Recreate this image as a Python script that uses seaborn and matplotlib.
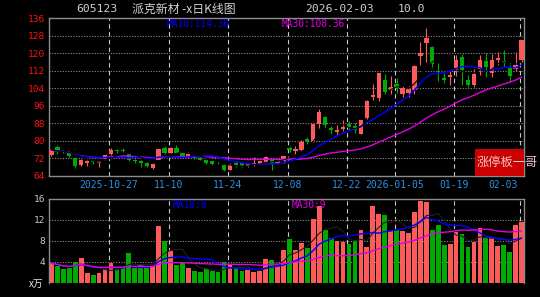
import numpy as np
import pandas as pd
import matplotlib
matplotlib.use("Agg")
import matplotlib.pyplot as plt
from matplotlib.patches import Rectangle
import seaborn as sns

# ---------------- data ----------------
tick_idx = [10, 20, 30, 40, 50, 58, 68, 79]
tick_labels = ["2025-10-27", "11-10", "11-24", "12-08", "12-22", "2026-01-05", "01-19", "02-03"]

opens = [73.3, 77.2, 75.5, 74.8, 72.2, 68.7, 69.8, 70.7, 69.9, 71.8,
         74.1, 75.6, 75.7, 73.8, 71.2, 70.8, 69.8, 67.7, 71.3, 76.8,
         74.5, 76.8, 74.4, 72.6, 72.8, 72.3, 71.3, 70.5, 70.0, 68.8,
         66.8, 70.0, 69.8, 68.5, 68.8, 69.5, 69.8, 71.8, 69.8, 70.5,
         76.5, 75.3, 75.9, 80.8, 80.0, 87.5, 90.9, 85.8, 84.2, 85.5,
         87.5, 86.8, 83.2, 90.2, 100.2, 99.5, 107.7, 103.2, 106.0, 101.2,
         102.0, 103.3, 118.8, 124.5, 122.7, 112.0, 108.6, 109.0, 112.5, 118.4,
         107.7, 105.5, 112.8, 116.3, 110.8, 117.0, 116.4, 113.3, 112.8, 116.9]
highs = [76.3, 78.2, 75.9, 75.5, 72.6, 71.6, 71.3, 71.0, 70.8, 73.5,
         76.5, 76.2, 76.5, 74.5, 71.6, 71.2, 70.2, 69.6, 76.3, 77.8,
         77.0, 77.9, 74.8, 74.0, 73.2, 72.6, 71.6, 70.8, 70.5, 69.2,
         69.8, 70.6, 70.2, 69.8, 72.5, 70.9, 72.9, 72.2, 71.2, 73.0,
         77.4, 77.5, 80.5, 81.8, 88.0, 94.5, 91.5, 87.0, 87.1, 89.7,
         89.0, 88.0, 89.6, 98.4, 105.9, 110.9, 110.5, 109.5, 108.5, 105.0,
         105.0, 114.5, 125.3, 131.4, 123.5, 115.4, 111.2, 112.0, 119.0, 119.5,
         110.0, 113.0, 119.2, 120.0, 119.5, 120.5, 121.5, 115.4, 120.5, 126.0]
lows = [72.8, 74.0, 74.2, 72.5, 67.5, 68.3, 68.5, 69.5, 68.0, 71.0,
        73.5, 74.5, 74.8, 70.8, 70.0, 68.0, 68.0, 67.0, 71.0, 73.8,
        74.2, 74.2, 72.5, 72.2, 71.8, 71.0, 69.5, 69.0, 69.2, 66.2,
        66.5, 68.2, 67.9, 68.2, 68.5, 69.2, 69.6, 66.8, 69.5, 70.0,
        74.8, 74.0, 75.5, 78.5, 79.5, 86.0, 85.5, 83.2, 82.5, 84.5,
        85.0, 83.5, 82.9, 89.5, 98.5, 98.0, 101.0, 101.6, 102.0, 100.0,
        100.0, 101.5, 114.6, 116.0, 113.5, 107.4, 106.2, 105.4, 109.5, 105.4,
        104.6, 104.5, 110.0, 109.0, 109.0, 114.8, 113.8, 107.0, 112.0, 116.0]
closes = [75.8, 74.8, 75.0, 73.0, 68.4, 71.3, 70.8, 70.2, 70.5, 73.3,
          75.9, 75.2, 75.3, 71.0, 70.5, 69.8, 68.4, 69.4, 76.0, 74.2,
          76.6, 74.6, 72.9, 73.7, 72.2, 71.4, 69.9, 69.4, 69.6, 66.5,
          69.0, 68.5, 68.6, 69.3, 69.6, 70.5, 72.5, 69.4, 70.8, 72.8,
          75.8, 76.0, 79.4, 80.0, 87.8, 93.2, 87.1, 85.0, 84.9, 86.3,
          86.3, 85.0, 89.4, 98.2, 100.9, 110.8, 102.5, 104.5, 104.0, 104.2,
          103.8, 114.1, 120.2, 126.8, 115.3, 111.5, 107.9, 110.0, 117.0, 112.5,
          105.5, 110.5, 116.8, 113.6, 116.8, 117.8, 115.5, 109.8, 114.5, 125.95]
volumes = [3.7, 3.2, 2.6, 2.8, 4.0, 4.6, 1.9, 1.4, 1.9, 2.6,
           3.7, 2.5, 3.0, 5.6, 2.7, 3.3, 2.7, 3.2, 10.9, 8.0,
           6.0, 3.3, 3.8, 2.7, 2.2, 2.0, 2.6, 2.2, 2.0, 3.9,
           3.5, 2.7, 2.2, 2.4, 2.0, 2.2, 4.5, 4.4, 3.2, 6.2,
           8.3, 6.2, 7.5, 6.6, 12.2, 14.6, 10.1, 8.5, 8.0, 7.7,
           7.4, 8.2, 10.0, 6.8, 14.6, 13.2, 13.0, 9.8, 10.1, 9.8,
           9.5, 13.6, 15.7, 15.5, 10.1, 11.1, 7.2, 7.3, 9.6, 9.3,
           6.8, 7.8, 10.4, 8.6, 8.8, 7.0, 7.1, 5.8, 11.0, 11.6]

price_ticks = [64, 72, 80, 88, 96, 104, 112, 120, 128, 136]
vol_ticks = [4, 8, 12, 16]

# ---------------- style ----------------
sns.set_theme(style="dark", rc={"axes.facecolor": "black", "figure.facecolor": "black",
                                "axes.edgecolor": "#8c8c8c", "axes.grid": False})
plt.rcParams['font.family'] = ['DejaVu Sans Mono', 'Noto Sans CJK SC', 'DejaVu Sans']

RED = "#ff5a5a"
GREEN = "#00aa00"
GRID = "#8a8a8a"
DASH = "#c8c8c8"

W, H = 540, 297
fig = plt.figure(figsize=(W / 100, H / 100), dpi=100)
fig.patch.set_facecolor("black")

def fx(x):
    return x / W

def fy(y):
    return 1 - y / H

ax = fig.add_axes([fx(49), fy(175.7), 475 / W, 157.4 / H])
axv = fig.add_axes([fx(49), fy(282.5), 475 / W, 83.5 / H])

idx = np.arange(len(closes))
o = np.array(opens); c = np.array(closes); hi = np.array(highs); lo = np.array(lows)
v = np.array(volumes)
up = c >= o
cols = np.where(up, RED, GREEN)

xlim = (-0.42, 79.41)

# ---------------- price panel ----------------
for yv in price_ticks[1:-1]:
    ax.axhline(yv, color=GRID, lw=0.8, ls=(0, (1, 1.4)), zorder=1)
for t in tick_idx:
    ax.axvline(t - 0.3, color=DASH, lw=0.8, ls=(0, (4, 3)), zorder=1)

ax.vlines(idx, lo, hi, colors=cols, lw=0.8, zorder=3)
body_bottom = np.minimum(o, c)
body_h = np.maximum(np.abs(c - o), 0.35)
ax.bar(idx, body_h, bottom=body_bottom, width=0.72, color=cols, lw=0, zorder=3)

cs = pd.Series(c)
ma5 = cs.rolling(5, min_periods=1).mean()
ma10 = cs.rolling(10, min_periods=1).mean()
ma30 = cs.rolling(30, min_periods=1).mean()
sns.lineplot(x=idx, y=ma30, ax=ax, color="#e000e0", lw=1.0, legend=False, zorder=4)
sns.lineplot(x=idx, y=ma10, ax=ax, color="#0000ff", lw=1.0, legend=False, zorder=4)
sns.lineplot(x=idx, y=ma5, ax=ax, color="#000000", lw=0.8, legend=False, zorder=4)

ax.set_xlim(*xlim)
ax.set_ylim(64, 136)
ax.set_yticks(price_ticks)
ax.set_yticklabels([str(t) for t in price_ticks], color="#ff1010", fontsize=6.8)
ax.set_xticks([])
ax.tick_params(axis="y", length=0, pad=3)
ax.set_xlabel(""); ax.set_ylabel("")
for s in ax.spines.values():
    s.set_color("#8c8c8c"); s.set_linewidth(1.0)

# date labels
for t, lab in zip(tick_idx, tick_labels):
    if lab == "02-03":
        fig.text(fx(518), fy(184.5), lab, color="#2f8fe0", fontsize=7, ha="right", va="center")
    else:
        xp = 51.5 + 5.95 * t - 2
        fig.text(fx(xp), fy(184.5), lab, color="#2f8fe0", fontsize=7, ha="center", va="center")

# ---------------- volume panel ----------------
for yv in vol_ticks[:-1]:
    axv.axhline(yv, color=GRID, lw=0.8, ls=(0, (1, 1.4)), zorder=1)
for t in tick_idx:
    axv.axvline(t - 0.3, color=DASH, lw=0.8, ls=(0, (4, 3)), zorder=1)
axv.bar(idx, v, width=0.8, color=cols, lw=0, zorder=2)
vs = pd.Series(v)
sns.lineplot(x=idx, y=vs.rolling(5, min_periods=1).mean(), ax=axv, color="#202020", lw=0.8, legend=False, zorder=3)
sns.lineplot(x=idx, y=vs.rolling(10, min_periods=1).mean(), ax=axv, color="#0000ff", lw=1.0, legend=False, zorder=4)
sns.lineplot(x=idx, y=vs.rolling(30, min_periods=1).mean(), ax=axv, color="#e000e0", lw=1.0, legend=False, zorder=4)
axv.set_xlim(*xlim)
axv.set_ylim(0, 16)
axv.set_yticks(vol_ticks)
axv.set_yticklabels([str(t) for t in vol_ticks], color="#c8c8c8", fontsize=6.8)
axv.set_xticks([])
axv.tick_params(axis="y", length=0, pad=3)
axv.set_xlabel(""); axv.set_ylabel("")
for k, s in axv.spines.items():
    s.set_color("#8c8c8c"); s.set_linewidth(1.0)
axv.spines["bottom"].set_visible(False)

# ---------------- texts ----------------
fig.text(fx(76), fy(9.5), "605123", color="#d0d0d0", fontsize=8.2, ha="left", va="center")
fig.text(fx(132), fy(9.5), "派克新材 -x日K线图", color="#d0d0d0", fontsize=8.6, ha="left", va="center",
         family=['Noto Sans CJK SC', 'DejaVu Sans'])
fig.text(fx(305), fy(9.5), "2026-02-03", color="#d0d0d0", fontsize=8.2, ha="left", va="center")
fig.text(fx(398), fy(9.5), "10.0", color="#d0d0d0", fontsize=8.2, ha="left", va="center")

fig.text(fx(167), fy(24), "MA10:114.30", color="#0000ff", fontsize=6.9, ha="left", va="center")
fig.text(fx(282), fy(24), "MA30:108.36", color="#e000e0", fontsize=6.9, ha="left", va="center")
fig.text(fx(173), fy(204.5), "MA10:8", color="#0000ff", fontsize=6.9, ha="left", va="center")
fig.text(fx(292), fy(204.5), "MA30:9", color="#e000e0", fontsize=6.9, ha="left", va="center")
fig.text(fx(29), fy(284), "x万", color="#e8e8e8", fontsize=7, ha="left", va="center",
         family=['Noto Sans CJK SC', 'DejaVu Sans'])

box = Rectangle((fx(475), fy(176)), 49 / W, 27 / H, transform=fig.transFigure,
                facecolor="#cc0000", edgecolor="none", zorder=10)
fig.add_artist(box)
fig.text(fx(477), fy(162.5), "涨停板一哥", color="#f2c4c4", fontsize=8.8, ha="left", va="center",
         family=['Noto Sans CJK SC', 'DejaVu Sans'], zorder=11)

fig.savefig("out.png", dpi=100, facecolor="black")
